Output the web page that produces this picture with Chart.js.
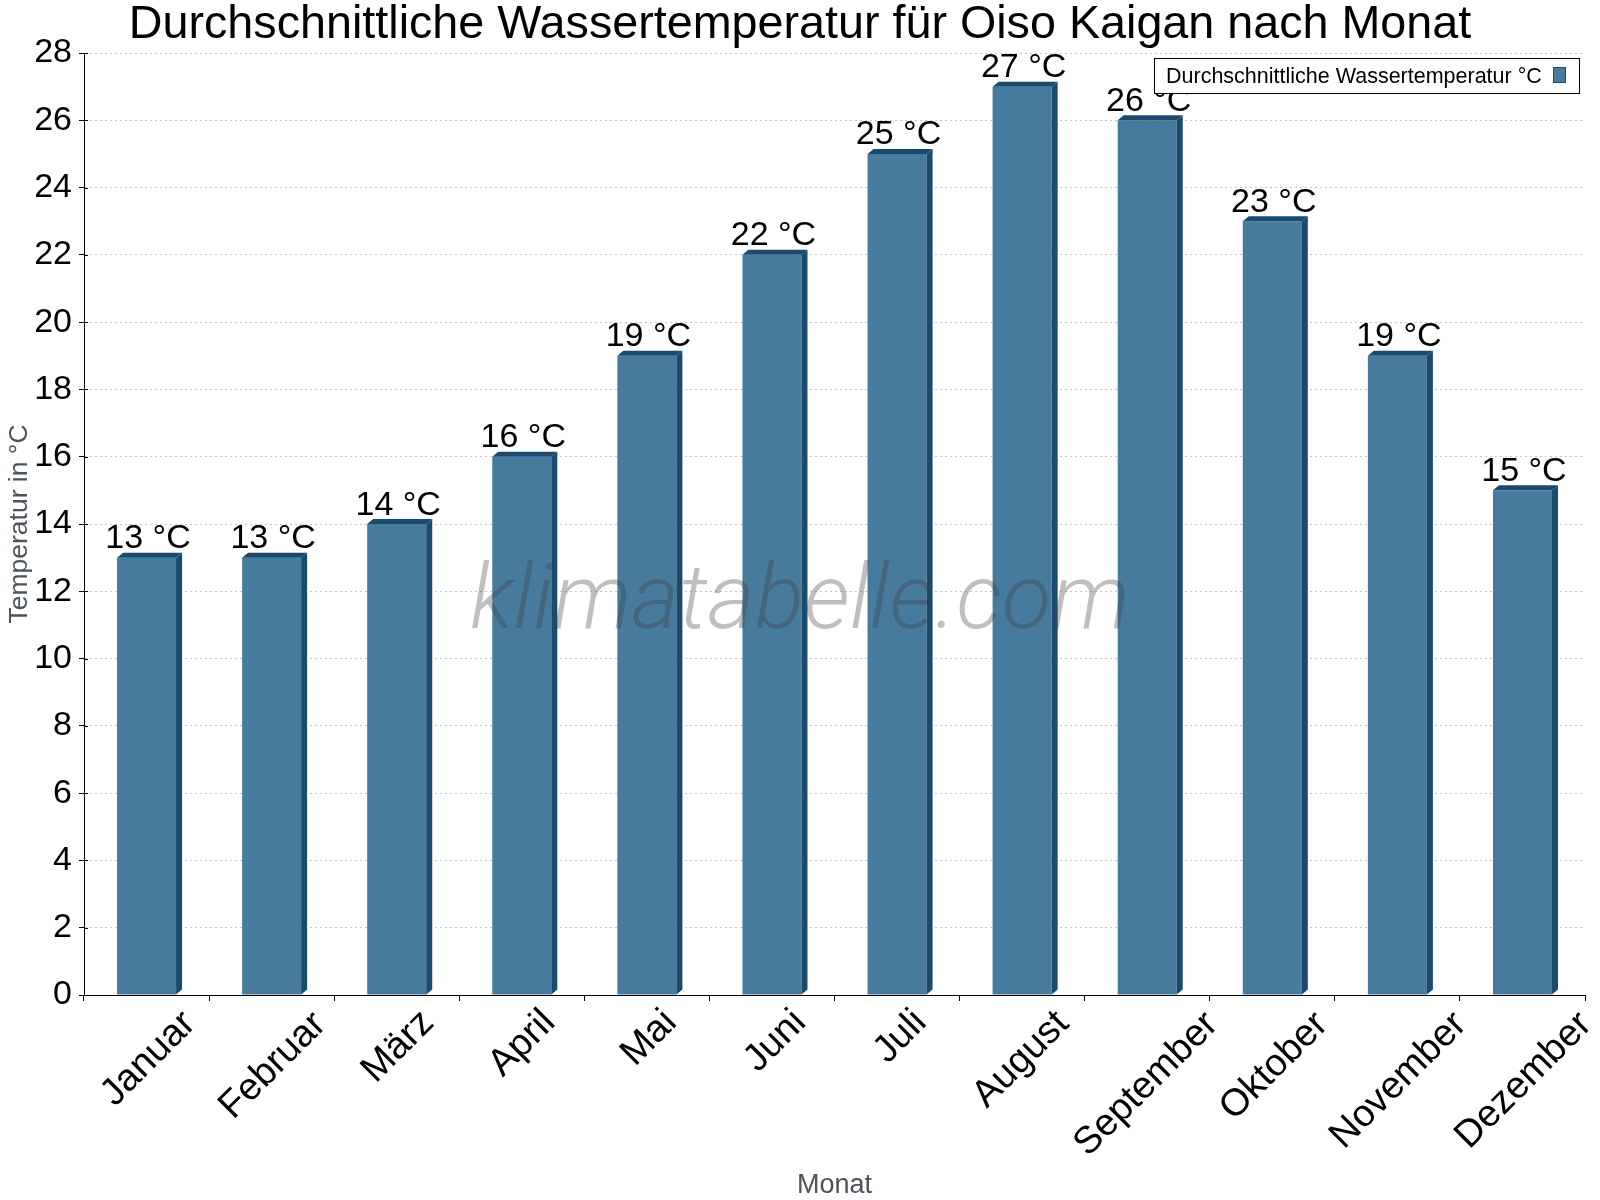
<!DOCTYPE html>
<html>
<head>
<meta charset="utf-8">
<script src="https://cdn.jsdelivr.net/npm/chart.js@4.4.1/dist/chart.umd.min.js"></script>
<style>
html,body{margin:0;padding:0;background:#fff;}
canvas{display:block;}
</style>
</head>
<body>
<canvas id="c" width="1600" height="1200"></canvas>
<script>
// ---- data ----
const months = ['Januar','Februar','März','April','Mai','Juni','Juli','August','September','Oktober','November','Dezember'];
const waterTemp = [13, 13, 14, 16, 19, 22, 25, 27, 26, 23, 19, 15];
const yTickValues = [0, 2, 4, 6, 8, 10, 12, 14, 16, 18, 20, 22, 24, 26, 28];
const unit = '°C';
const titleText = 'Durchschnittliche Wassertemperatur für Oiso Kaigan nach Monat';
const seriesName = 'Durchschnittliche Wassertemperatur °C';
const yTitle = 'Temperatur in °C';
const xTitle = 'Monat';
const watermark = 'klimatabelle.com';

const FONT = '"Liberation Sans", Arial, sans-serif';
const FRONT = '#467b9e';
const DARK = '#1a4a6e';

const deco = {
  id: 'deco',
  beforeDraw(chart) {
    const ctx = chart.ctx;
    ctx.save();
    ctx.fillStyle = '#fff';
    ctx.fillRect(0, 0, chart.width, chart.height);
    ctx.restore();
  },
  afterDatasetsDraw(chart) {
    const ctx = chart.ctx;
    const meta = chart.getDatasetMeta(0);
    const d = 6, dv = 5;
    ctx.save();
    meta.data.forEach((bar, i) => {
      const p = bar.getProps(['x', 'y', 'base', 'width'], true);
      const l = p.x - p.width / 2, r = p.x + p.width / 2;
      ctx.fillStyle = DARK;
      ctx.beginPath();
      ctx.moveTo(l, p.y);
      ctx.lineTo(l + d, p.y - dv);
      ctx.lineTo(r + d, p.y - dv);
      ctx.lineTo(r, p.y);
      ctx.closePath();
      ctx.fill();
      ctx.beginPath();
      ctx.moveTo(r, p.y);
      ctx.lineTo(r + d, p.y - dv);
      ctx.lineTo(r + d, p.base - dv);
      ctx.lineTo(r, p.base);
      ctx.closePath();
      ctx.fill();
      ctx.fillStyle = '#000';
      ctx.font = '34px ' + FONT;
      ctx.textAlign = 'center';
      ctx.textBaseline = 'alphabetic';
      ctx.fillText(waterTemp[i] + ' ' + unit, p.x + 1.5, p.y - 9.5);
    });
    ctx.textAlign = 'left';
    ctx.font = 'italic 300 100px Roboto, ' + FONT;
    const w100 = ctx.measureText(watermark).width;
    const fs = 100 * 660 / w100;
    ctx.font = 'italic 300 ' + fs.toFixed(1) + 'px Roboto, ' + FONT;
    ctx.fillStyle = 'rgba(60,60,60,0.33)';
    ctx.textAlign = 'center';
    ctx.textBaseline = 'alphabetic';
    ctx.fillText(watermark, 800, 628);
    ctx.restore();
  },
  afterDraw(chart) {
    const ctx = chart.ctx;
    const xs = chart.scales.x, ys = chart.scales.y;
    const area = chart.chartArea;
    ctx.save();
    ctx.strokeStyle = '#000';
    ctx.lineWidth = 1;
    yTickValues.forEach(v => {
      const py = Math.round(ys.getPixelForValue(v)) + 0.5;
      ctx.beginPath();
      ctx.moveTo(area.left, py);
      ctx.lineTo(area.left + 4, py);
      ctx.stroke();
    });
    // title
    ctx.fillStyle = '#000';
    ctx.font = '46.7px ' + FONT;
    ctx.textAlign = 'center';
    ctx.textBaseline = 'alphabetic';
    ctx.fillText(titleText, 800, 38);
    // x tick labels: rotated 45°, bounding box centred under the category, top at fixed y
    ctx.font = '38px ' + FONT;
    ctx.textAlign = 'left';
    ctx.textBaseline = 'alphabetic';
    const c = Math.SQRT1_2;
    months.forEach((m, i) => {
      const cx = xs.getPixelForValue(i);
      const mt = ctx.measureText(m);
      const asc = mt.actualBoundingBoxAscent, desc = mt.actualBoundingBoxDescent;
      const x0 = -mt.actualBoundingBoxLeft, x1 = mt.actualBoundingBoxRight;
      const pts = [[x0, -asc], [x1, -asc], [x0, desc], [x1, desc]].map(([x, y]) => [c * x + c * y, -c * x + c * y]);
      const minX = Math.min(...pts.map(q => q[0])), maxX = Math.max(...pts.map(q => q[0]));
      const minY = Math.min(...pts.map(q => q[1]));
      const ox = cx - (minX + maxX) / 2;
      const oy = 1006 - minY;
      ctx.save();
      ctx.translate(ox, oy);
      ctx.rotate(-Math.PI / 4);
      ctx.fillText(m, 0, 0);
      ctx.restore();
    });
    // axis titles
    ctx.fillStyle = '#4c535c';
    ctx.font = '27px ' + FONT;
    ctx.textAlign = 'center';
    ctx.fillText(xTitle, (area.left + area.right) / 2, 1193);
    ctx.save();
    ctx.translate(27, (area.top + area.bottom) / 2);
    ctx.rotate(-Math.PI / 2);
    ctx.font = '26.5px ' + FONT;
    ctx.fillText(yTitle, 0, 0);
    ctx.restore();
    // legend
    const lx = 1154.5, ly = 58.5, lw = 425, lh = 35;
    ctx.fillStyle = '#fff';
    ctx.fillRect(lx, ly, lw, lh);
    ctx.strokeStyle = '#000';
    ctx.lineWidth = 1;
    ctx.strokeRect(lx, ly, lw, lh);
    ctx.fillStyle = '#000';
    ctx.font = '21.5px ' + FONT;
    ctx.textAlign = 'left';
    ctx.textBaseline = 'middle';
    ctx.fillText(seriesName, 1166, ly + lh / 2 + 1);
    ctx.fillStyle = FRONT;
    ctx.fillRect(1553.5, 67.5, 12, 15);
    ctx.strokeStyle = DARK;
    ctx.strokeRect(1553.5, 67.5, 12, 15);
    ctx.restore();
  }
};

new Chart(document.getElementById('c'), {
  type: 'bar',
  data: {
    labels: months,
    datasets: [{
      label: seriesName,
      data: waterTemp,
      backgroundColor: FRONT,
      borderWidth: 0,
      barPercentage: 0.472,
      categoryPercentage: 1.0
    }]
  },
  options: {
    responsive: false,
    animation: false,
    devicePixelRatio: 1,
    layout: { padding: { top: 53, right: 15, left: 0, bottom: 0 } },
    plugins: {
      legend: { display: false },
      title: { display: false },
      tooltip: { enabled: false }
    },
    scales: {
      x: {
        type: 'category',
        offset: true,
        grid: { display: true, offset: true, drawOnChartArea: false, drawTicks: true, tickLength: 6, tickColor: '#000', color: '#000' },
        ticks: { display: false },
        border: { display: true, color: '#000', width: 1 },
        afterFit(s) { s.height = 205; }
      },
      y: {
        min: 0,
        max: 28,
        afterBuildTicks(s) { s.ticks = yTickValues.map(v => ({ value: v })); },
        ticks: { color: '#000', font: { family: FONT, size: 34 }, padding: 7 },
        grid: { color: '#c4c4c4', tickColor: '#000', drawTicks: true, tickLength: 5, lineWidth: 1 },
        border: { display: true, color: '#000', width: 1, dash: [2, 3] },
        afterFit(s) { s.width = 84; }
      }
    }
  },
  plugins: [deco]
});
</script>
</body>
</html>
